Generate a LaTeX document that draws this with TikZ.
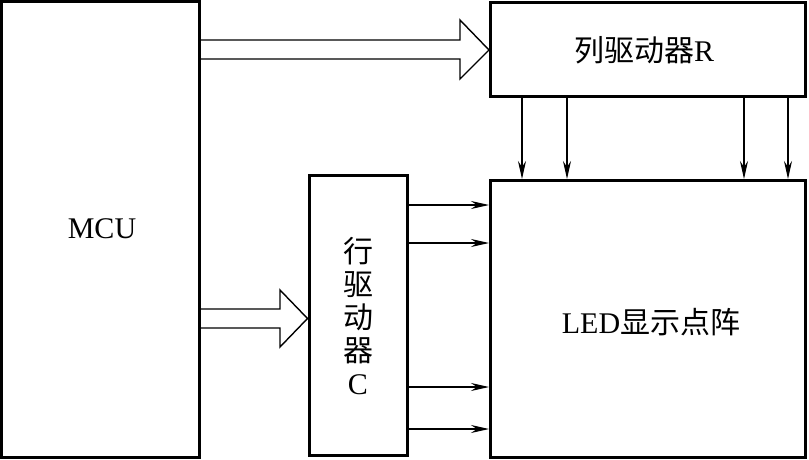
\documentclass[tikz,border=0pt]{standalone}
\usepackage{fontspec}
\setmainfont{Liberation Serif}
\newfontfamily\cjk{Noto Sans CJK SC}
\usetikzlibrary{arrows.meta}
\begin{document}
\begin{tikzpicture}[x=1pt,y=-1pt,
  blk/.style={draw,line width=3pt,inner sep=0pt},
  lbl/.style={font=\fontsize{30}{33}\selectfont},
  wide/.style={line width=1.4pt,line join=miter},
  sig/.style={line width=1.1pt,-{Stealth[length=18pt,width=8pt,inset=6pt]}}]
\useasboundingbox (0,0) rectangle (809,460);
\node[blk,minimum width=198pt,minimum height=456pt] (mcu) at (100.5,229.5) {};
\node[lbl] (mcut) at (102,229) {MCU};
\node[blk,minimum width=315pt,minimum height=94pt] (col) at (648,49.5) {};
\node[lbl] (colt) at (644,50) {{\cjk 列驱动器}R};
\node[blk,minimum width=315pt,minimum height=277pt] (led) at (648,319) {};
\node[lbl] (ledt) at (651,322) {LED{\cjk 显示点阵}};
\node[blk,minimum width=98pt,minimum height=280pt] (row) at (358,315.5) {};
\node[lbl,align=center] (rowt) at (358,316) {{\cjk 行}\\{\cjk 驱}\\{\cjk 动}\\{\cjk 器}\\C};
% wide arrows
\draw[wide] (mcu.north east |- 0,40) -- (460,40) -- (460,20) -- (col.west |- 0,50) -- (460,79) -- (460,59) -- (mcu.north east |- 0,59);
\draw[wide] (mcu.north east |- 0,309) -- (280,309) -- (280,290) -- (row.west |- 0,318.5) -- (280,347) -- (280,328) -- (mcu.north east |- 0,328);
% column signals
\foreach \x in {522,567,744,788}
  \draw[sig] (col.south -| \x,0) -- (led.north -| \x,0);
% row signals
\foreach \y in {205,243,387,429}
  \draw[sig] (row.east |- 0,\y) -- (led.west |- 0,\y);
\end{tikzpicture}
\end{document}
